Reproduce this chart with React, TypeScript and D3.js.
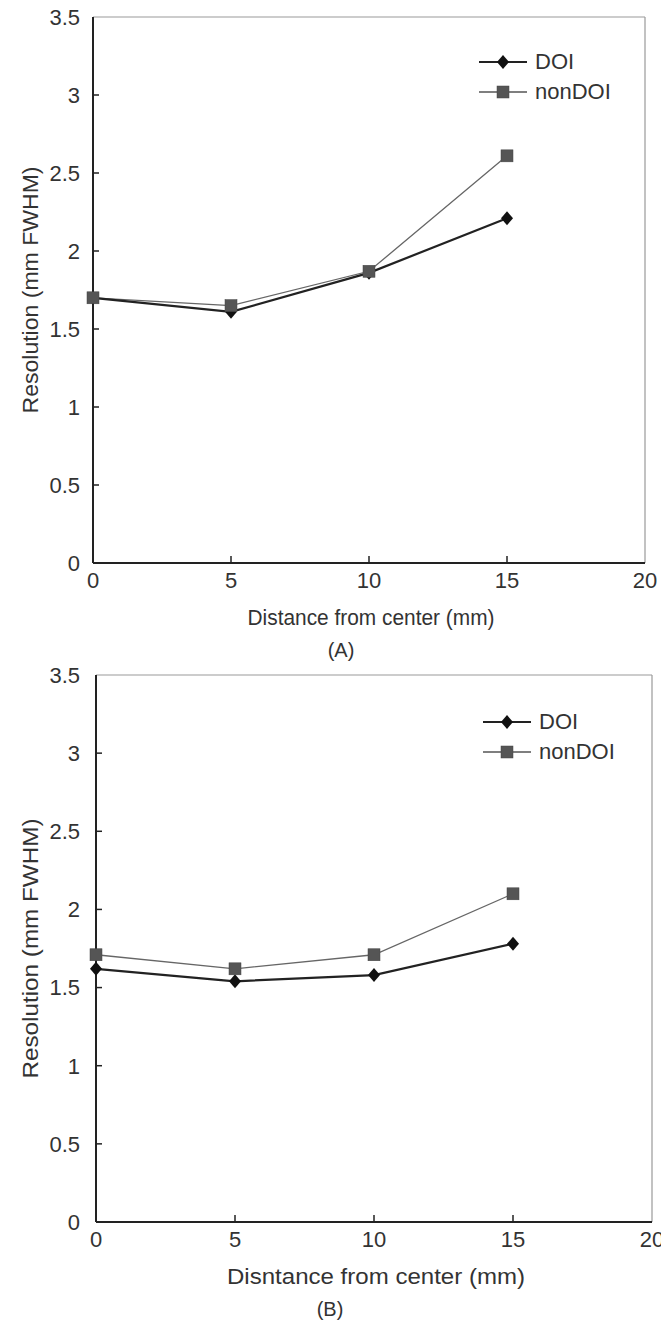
import React from "react";
import * as d3 from "d3";

const distances = [0, 5, 10, 15];
const doiA = [1.7, 1.61, 1.86, 2.21];
const nonDoiA = [1.7, 1.65, 1.87, 2.61];
const doiB = [1.62, 1.54, 1.58, 1.78];
const nonDoiB = [1.71, 1.62, 1.71, 2.1];
const yTicks = [0, 0.5, 1, 1.5, 2, 2.5, 3, 3.5];
const xTicks = [0, 5, 10, 15, 20];
const seriesNames = ["DOI", "nonDOI"];

const FONT = "'Liberation Sans', Arial, sans-serif";

type PanelProps = {
  left: number; right: number; top: number; bottom: number;
  doi: number[]; nonDoi: number[];
  xTitle: string; xTitleLen: number; yTitleLen: number; tag: string; tagX: number;
  legendX: number; legendY: number;
};

function Panel(p: PanelProps) {
  const x = d3.scaleLinear().domain([0, 20]).range([p.left, p.right]);
  const y = d3.scaleLinear().domain([0, 3.5]).range([p.bottom, p.top]);
  const line = d3.line<number>().x((_, i) => x(distances[i])).y((v) => y(v));
  const diamond = (cx: number, cy: number, key: string) => (
    <path key={key} d={`M${cx},${cy - 7}L${cx + 6},${cy}L${cx},${cy + 7}L${cx - 6},${cy}Z`} fill="#111" />
  );
  const square = (cx: number, cy: number, key: string) => (
    <rect key={key} x={cx - 6} y={cy - 6} width={12} height={12} fill="#555" stroke="#444" strokeWidth={0.5} />
  );
  const midY = (p.top + p.bottom) / 2;
  return (
    <g fontFamily={FONT} fill="#222">
      <line x1={p.left} x2={p.right} y1={p.top} y2={p.top} stroke="#999" strokeWidth={1.2} />
      <line x1={p.right} x2={p.right} y1={p.top} y2={p.bottom} stroke="#999" strokeWidth={1.2} />
      <line x1={p.left} x2={p.left} y1={p.top} y2={p.bottom} stroke="#222" strokeWidth={2} />
      <line x1={p.left} x2={p.right} y1={p.bottom} y2={p.bottom} stroke="#222" strokeWidth={2} />
      {yTicks.map((t) => (
        <g key={"y" + t}>
          {t > 0 && t < 3.5 && <line x1={p.left} x2={p.left + 6} y1={y(t)} y2={y(t)} stroke="#222" strokeWidth={1.5} />}
          <text x={80} y={y(t) + 2} textAnchor="end" dominantBaseline="middle" fontSize={22} fill="#333">
            {String(t)}
          </text>
        </g>
      ))}
      {xTicks.map((t) => (
        <g key={"x" + t}>
          {t > 0 && t < 20 && <line x1={x(t)} x2={x(t)} y1={p.bottom} y2={p.bottom - 7} stroke="#222" strokeWidth={1.5} />}
          <text x={x(t)} y={p.bottom + 19} textAnchor="middle" dominantBaseline="middle" fontSize={22} fill="#333">
            {String(t)}
          </text>
        </g>
      ))}
      <text x={(p.left + p.right) / 2 + 2} y={p.bottom + 62} textAnchor="middle" fontSize={22} fill="#333"
        textLength={p.xTitleLen} lengthAdjust="spacingAndGlyphs">{p.xTitle}</text>
      <text x={p.tagX} y={p.bottom + 94} textAnchor="middle" fontSize={20} fill="#333">{p.tag}</text>
      <text transform={`translate(38,${midY}) rotate(-90)`} textAnchor="middle" fontSize={22} fill="#333"
        textLength={p.yTitleLen} lengthAdjust="spacingAndGlyphs">Resolution (mm FWHM)</text>
      <path d={line(p.nonDoi) || ""} fill="none" stroke="#666" strokeWidth={1.3} />
      <path d={line(p.doi) || ""} fill="none" stroke="#222" strokeWidth={2.2} />
      {p.doi.map((v, i) => diamond(x(distances[i]), y(v), "d" + i))}
      {p.nonDoi.map((v, i) => square(x(distances[i]), y(v), "s" + i))}
      {seriesNames.map((name, i) => {
        const ly = p.legendY + i * 30;
        return (
          <g key={name}>
            <line x1={p.legendX} x2={p.legendX + 48} y1={ly} y2={ly} stroke={i === 0 ? "#222" : "#555"} strokeWidth={i === 0 ? 2 : 1.5} />
            {i === 0 ? diamond(p.legendX + 24, ly, "ld") : square(p.legendX + 24, ly, "ls")}
            <text x={p.legendX + 56} y={ly + 1} dominantBaseline="middle" fontSize={22} fill="#333">{name}</text>
          </g>
        );
      })}
    </g>
  );
}

export default function App() {
  return (
    <svg width={661} height={1326} style={{ position: "absolute", left: 0, top: 0, background: "#fff" }}>
      <rect x={0} y={0} width={661} height={1326} fill="#fff" />
      <Panel left={93} right={645} top={17} bottom={563} doi={doiA} nonDoi={nonDoiA}
        xTitle="Distance from center (mm)" xTitleLen={247} yTitleLen={247} tag="(A)" tagX={341}
        legendX={479} legendY={62} />
      <Panel left={96} right={652} top={675} bottom={1222} doi={doiB} nonDoi={nonDoiB}
        xTitle="Disntance from center (mm)" xTitleLen={298} yTitleLen={260} tag="(B)" tagX={330}
        legendX={483} legendY={722} />
    </svg>
  );
}
